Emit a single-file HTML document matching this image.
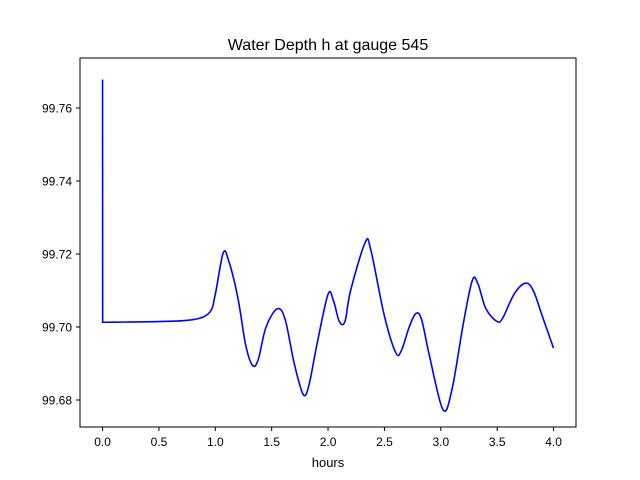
<!DOCTYPE html>
<html><head><meta charset="utf-8"><style>
html,body{margin:0;padding:0;background:#fff;}
svg{display:block;font-family:"Liberation Sans","DejaVu Sans",sans-serif;}
</style></head><body>
<svg id="chart" width="640" height="480" viewBox="0 0 640 480" xmlns="http://www.w3.org/2000/svg">
<rect width="640" height="480" fill="#fff"/>
<text x="328" y="50" text-anchor="middle" font-size="16">Water Depth h at gauge 545</text>
<g id="ticks"></g>
<path id="line" fill="none" stroke="#0000ff" stroke-width="1.6"/>
<rect x="80" y="58" width="496" height="369" fill="none" stroke="#000" stroke-width="1"/>
<text x="328" y="467" text-anchor="middle" font-size="13">hours</text>
</svg>
<script>
const hours=[0,0.001,0.5,0.8,0.95,1.0,1.07,1.12,1.2,1.27,1.33,1.38,1.45,1.55,1.62,1.7,1.78,1.83,1.9,2.0,2.05,2.1,2.15,2.2,2.33,2.38,2.5,2.6,2.65,2.72,2.78,2.83,2.9,3.02,3.1,3.2,3.28,3.33,3.4,3.5,3.55,3.65,3.75,3.82,3.9,4.0];
const depth=[99.7678,99.7013,99.7015,99.702,99.704,99.709,99.7203,99.718,99.708,99.695,99.6895,99.691,99.7,99.705,99.702,99.69,99.6815,99.684,99.695,99.709,99.707,99.7015,99.7015,99.71,99.7232,99.721,99.703,99.693,99.6935,99.7,99.7037,99.702,99.692,99.6773,99.683,99.701,99.7128,99.7118,99.705,99.7015,99.7025,99.709,99.712,99.71,99.703,99.6942];
const xTicks=[0,0.5,1,1.5,2,2.5,3,3.5,4];
const yTicks=[99.68,99.70,99.72,99.74,99.76];
const X=v=>102.55+v*112.75;
const Y=v=>400-(v-99.68)*3650;
const ns="http://www.w3.org/2000/svg";
const g=document.getElementById('ticks');
function mk(t,a){const e=document.createElementNS(ns,t);for(const k in a)e.setAttribute(k,a[k]);g.appendChild(e);return e;}
xTicks.forEach(v=>{
  const l=mk('line',{x1:X(v),x2:X(v),y1:427,y2:431,stroke:'#000'});
  
  
  const t=mk('text',{x:X(v),y:446,'text-anchor':'middle','font-size':'12'});
  
  
  t.textContent=v.toFixed(1);
});
yTicks.forEach(v=>{
  const l=mk('line',{x1:76,x2:80,y1:Y(v),y2:Y(v),stroke:'#000'});
  
  
  const t=mk('text',{x:72,y:Y(v)+4.5,'text-anchor':'end','font-size':'12'});
  
  
  t.textContent=v.toFixed(2);
});
// Catmull-Rom smoothing (after spike)
const P=hours.map((h,i)=>[X(h),Y(depth[i])]);
let d='M'+P[0][0]+','+P[0][1]+' L'+P[1][0]+','+P[1][1];
for(let i=1;i<P.length-1;i++){
  const p0=P[Math.max(1,i-1)],p1=P[i],p2=P[i+1],p3=P[Math.min(P.length-1,i+2)];
  const c1=[p1[0]+(p2[0]-p0[0])/6,p1[1]+(p2[1]-p0[1])/6];
  const c2=[p2[0]-(p3[0]-p1[0])/6,p2[1]-(p3[1]-p1[1])/6];
  d+=' C'+c1+' '+c2+' '+p2;
}
document.getElementById('line').setAttribute('d',d);
</script>
</body></html>
